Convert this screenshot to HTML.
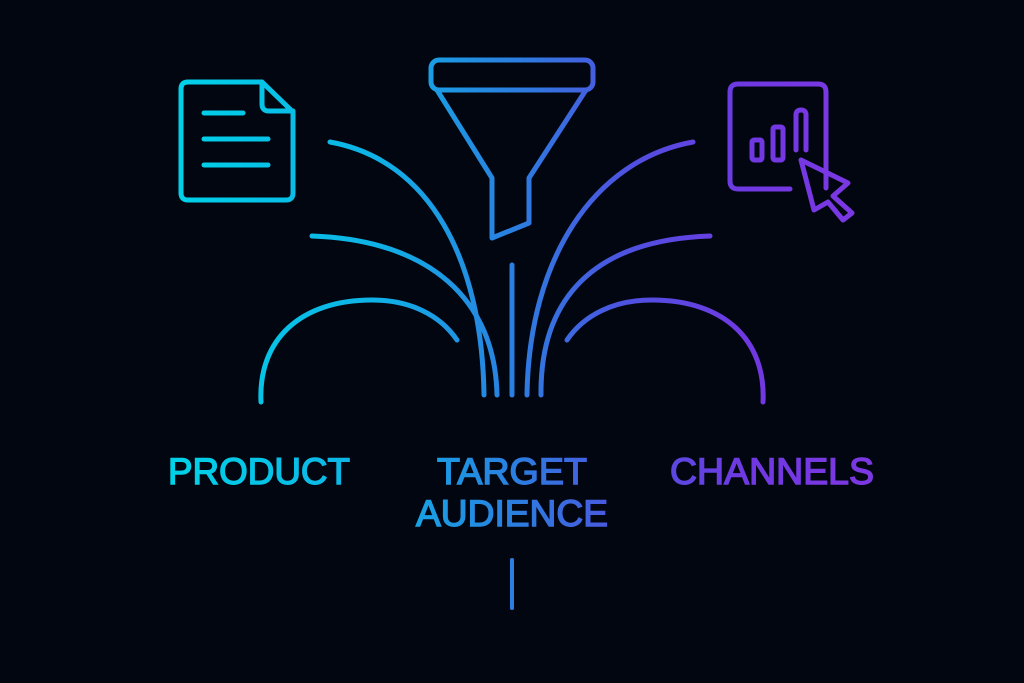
<!DOCTYPE html>
<html><head><meta charset="utf-8"><style>
html,body{margin:0;padding:0;background:#020611;}
svg{display:block}
</style></head><body>
<svg width="1024" height="683" viewBox="0 0 1024 683" xmlns="http://www.w3.org/2000/svg">
<defs>
<linearGradient id="g" gradientUnits="userSpaceOnUse" x1="170" y1="0" x2="850" y2="0">
<stop offset="0" stop-color="#00d2e8"/>
<stop offset="0.3" stop-color="#0fb2e6"/>
<stop offset="0.5" stop-color="#2a80e0"/>
<stop offset="0.68" stop-color="#5050e0"/>
<stop offset="0.85" stop-color="#7038e2"/>
<stop offset="1" stop-color="#7b38e2"/>
</linearGradient>
</defs>
<rect width="1024" height="683" fill="#020611"/>
<g fill="none" stroke="url(#g)" stroke-width="5" stroke-linecap="round" stroke-linejoin="round">
<path d="M262 82 H188 Q181 82 181 89 V193 Q181 200 188 200 H286 Q293 200 293 193 V112 Z"/>
<path d="M262 82 V104 Q262 111 269 111 H293"/>
<line x1="204" y1="113" x2="243" y2="113"/>
<line x1="204" y1="139" x2="268" y2="139"/>
<line x1="204" y1="165" x2="268" y2="165"/>
<rect x="431" y="60" width="162" height="30" rx="8"/>
<path d="M437 90 L492 178 V238 L529 223 V178 L586 90"/>
<path d="M330 142 C430 160 482 260 484 395"/>
<path d="M312 236 C430 240 495 300 497 395"/>
<path d="M261 402 C258 340 300 300 372 300 C410 300 440 315 457 340"/>
<line x1="512" y1="265" x2="512" y2="395"/>
<path d="M693 142 C593 160 529 260 527 395" />
<path d="M710 236 C592 240 540 300 541 395"/>
<path d="M763 402 C766 340 724 300 652 300 C614 300 584 315 567 340"/>
<path d="M826 188 V92 Q826 84 818 84 H738 Q730 84 730 92 V181 Q730 189 738 189 H790"/>
<rect x="752" y="140" width="10" height="20" rx="2"/>
<rect x="773" y="127" width="10" height="33" rx="2"/>
<path d="M796 150 V115 Q796 110 801 110 Q806 110 806 115 V150"/>
<path d="M801 160 L848 183 L833 196 L852 213 L843 220 L828 202 L814 210 Z"/>
<line x1="512" y1="560" x2="512" y2="608" stroke-width="4"/>
</g>
<g fill="url(#g)" stroke="url(#g)" stroke-width="1.4" font-family="Liberation Sans, sans-serif" font-size="37" text-anchor="middle">
<text x="259" y="484" textLength="182" lengthAdjust="spacingAndGlyphs">PRODUCT</text>
<text x="512" y="484" textLength="150" lengthAdjust="spacingAndGlyphs">TARGET</text>
<text x="512" y="526" textLength="192" lengthAdjust="spacingAndGlyphs">AUDIENCE</text>
<text x="772" y="484" textLength="204" lengthAdjust="spacingAndGlyphs">CHANNELS</text>
</g>
</svg>
</body></html>
